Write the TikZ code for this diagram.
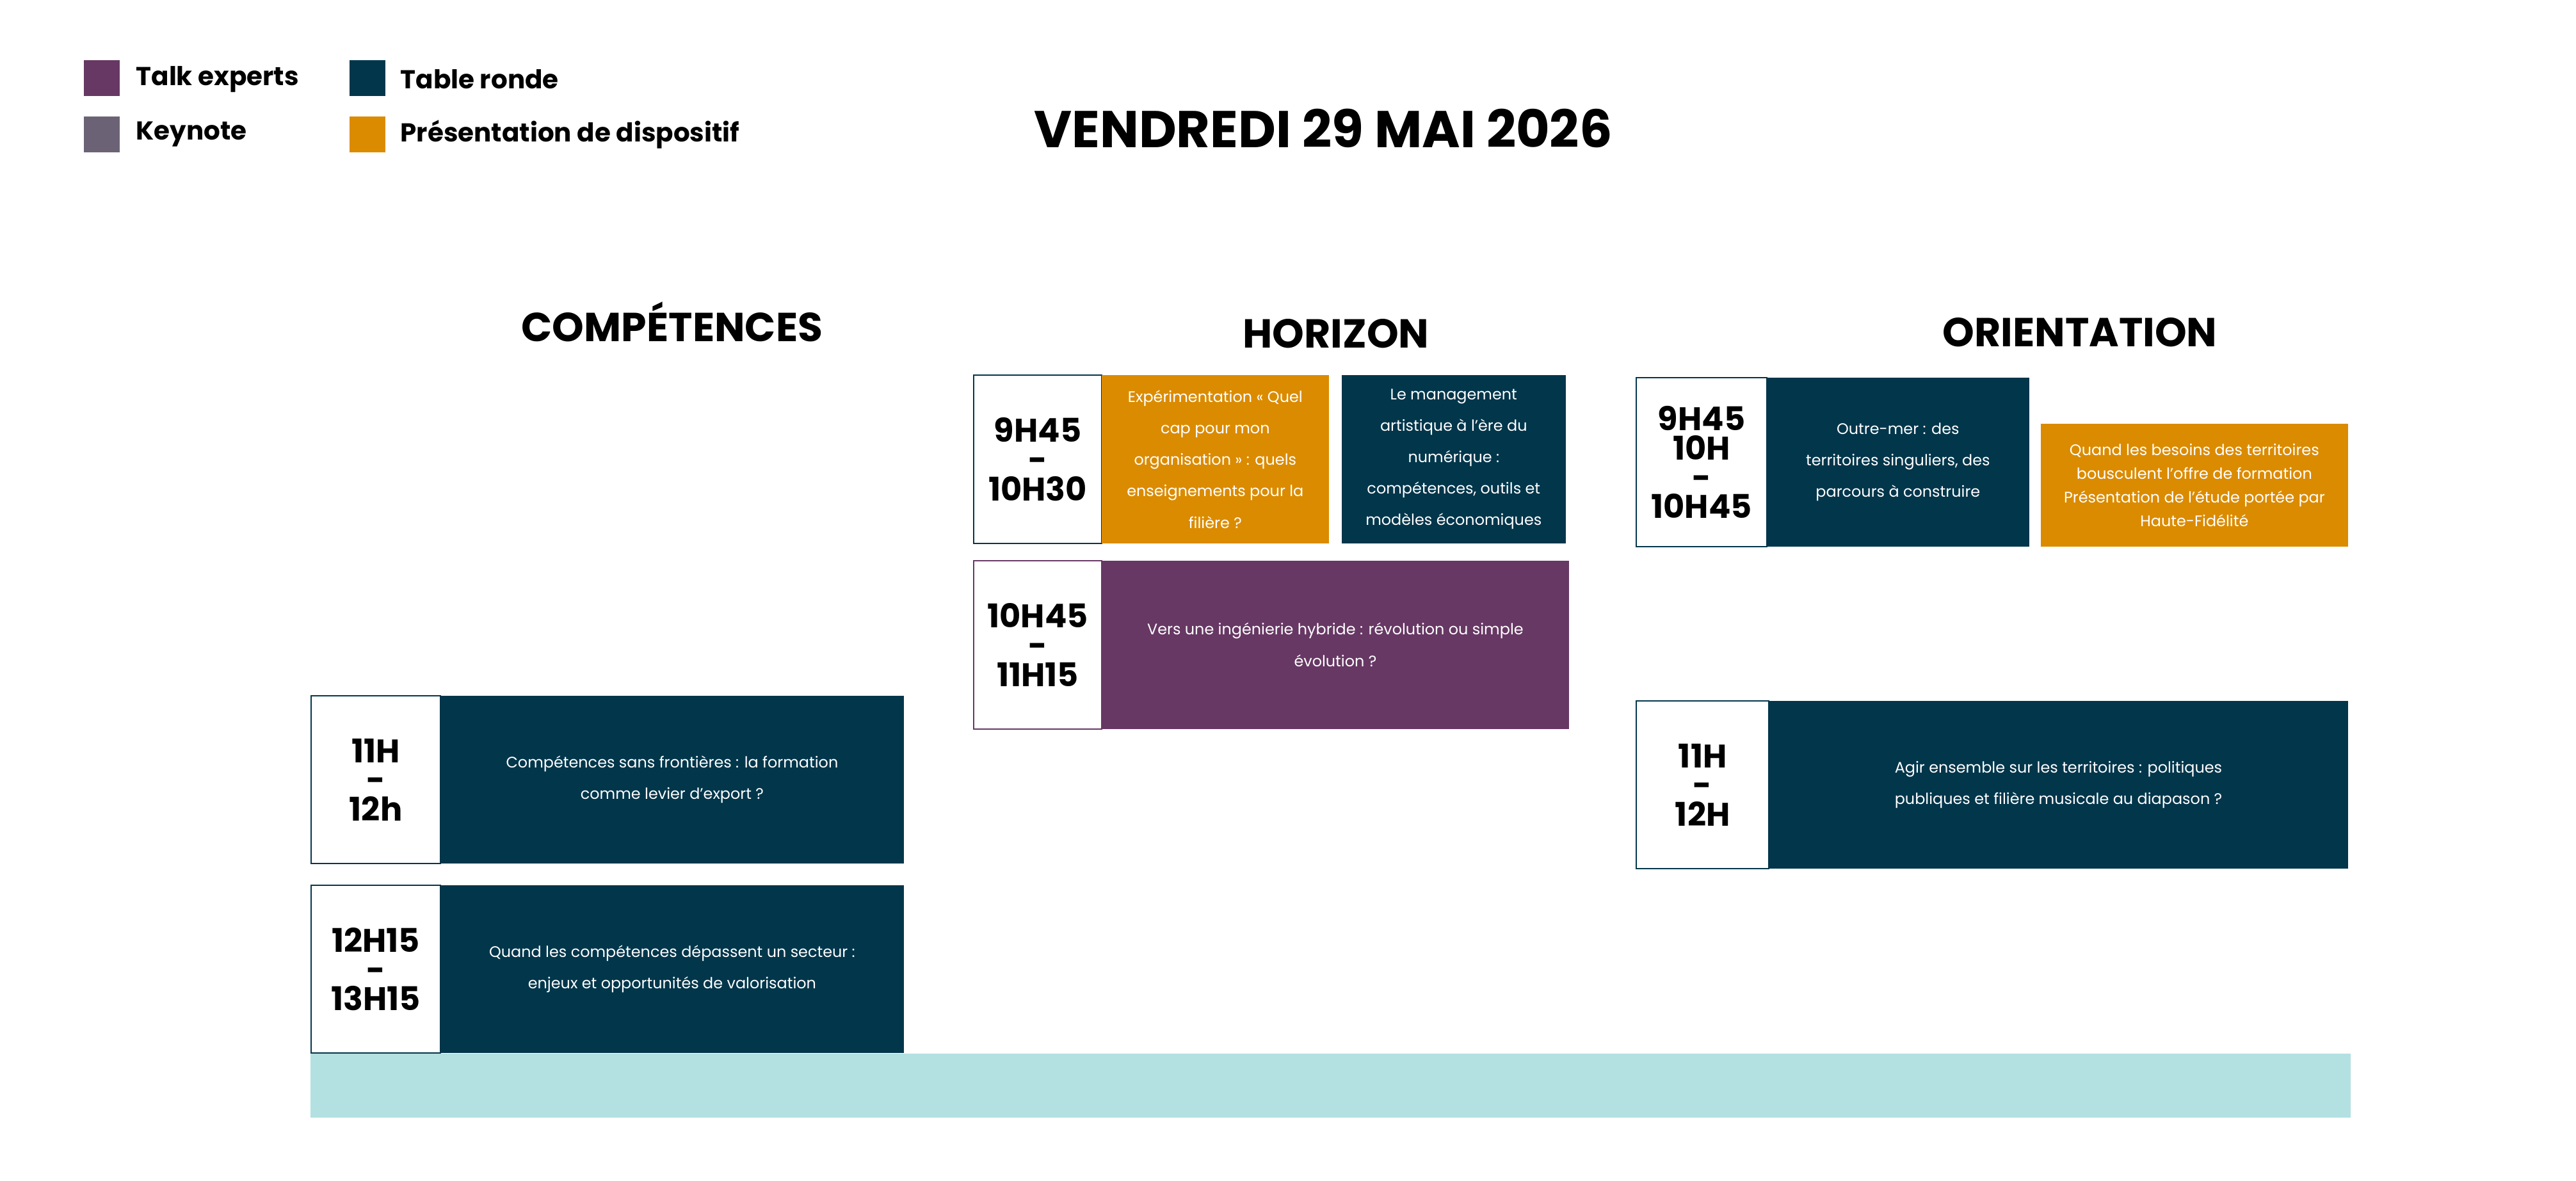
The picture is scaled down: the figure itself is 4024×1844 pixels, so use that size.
\documentclass[tikz,border=0pt]{standalone}
\usepackage{fontspec}
\setmainfont{Poppins}
\definecolor{talk}{HTML}{673864}
\definecolor{table}{HTML}{02364B}
\definecolor{keynote}{HTML}{6B6375}
\definecolor{dispo}{HTML}{DB8B00}
\definecolor{band}{HTML}{B3E0E0}
\begin{document}
\begin{tikzpicture}[x=0.01cm,y=-0.01cm,
  legend box/.style={minimum size=0.56cm,inner sep=0,anchor=north west},
  legend text/.style={anchor=west,font=\fontsize{11.5}{13}\selectfont\bfseries,inner sep=0},
  col title/.style={font=\fontsize{18}{20}\selectfont\bfseries},
  slot/.style={anchor=north west,inner sep=0,align=center,text=white,font=\fontsize{6.8}{14}\selectfont},
  time/.style={anchor=north west,inner sep=0,fill=white,draw=#1,line width=0.6pt,align=center,font=\fontsize{14.5}{13}\selectfont\bfseries}]

\useasboundingbox (0,0) rectangle (4024,1844);

% legend
\node[legend box,fill=talk] (lt) at (130,93) {};
\node[legend box,fill=keynote] (lk) at (130,181) {};
\node[legend box,fill=table] (lr) at (545,93) {};
\node[legend box,fill=dispo] (ld) at (545,181) {};
\node[legend text] at (212,124) {Talk experts};
\node[legend text] at (212,210) {Keynote};
\node[legend text] at (625,124) {Table ronde};
\node[legend text] at (625,210) {Présentation de dispositif};

\node[font=\fontsize{23}{25}\selectfont\bfseries] (title) at (2067,200) {VENDREDI 29 MAI 2026};

% columns
\node[col title] (comp) at (1050,503) {COMPÉTENCES};
\node[col title] (hori) at (2087,521) {HORIZON};
\node[col title] (orie) at (3249,519) {ORIENTATION};

% horizon
\node[time=table,minimum width=2cm,minimum height=2.63cm] (h1t) at (1520,585) {9H45\\-\\10H30};
\node[slot,fill=dispo,minimum width=3.55cm,minimum height=2.63cm] (h1a) at (1720,585) {Expérimentation « Quel\\cap pour mon\\organisation » : quels\\enseignements pour la\\filière ?};
\node[slot,fill=table,minimum width=3.5cm,minimum height=2.63cm] (h1b) at (2095,585) {Le management\\artistique à l’ère du\\numérique :\\compétences, outils et\\modèles économiques};
\node[time=talk,minimum width=2cm,minimum height=2.63cm] (h2t) at (1520,875) {10H45\\-\\11H15};
\node[slot,fill=talk,minimum width=7.3cm,minimum height=2.63cm] (h2a) at (1720,875) {Vers une ingénierie hybride : révolution ou simple\\évolution ?};

% orientation
\node[time=table,minimum width=2.04cm,minimum height=2.64cm] (o1t) at (2555,589) {9H45\\10H\\-\\10H45};
\node[slot,fill=table,minimum width=4.1cm,minimum height=2.64cm] (o1a) at (2759,589) {Outre-mer : des\\territoires singuliers, des\\parcours à construire};
\node[slot,fill=dispo,minimum width=4.8cm,minimum height=1.92cm,font=\fontsize{6.8}{10.5}\selectfont] (o1b) at (3187,661) {Quand les besoins des territoires\\bousculent l’offre de formation\\Présentation de l’étude portée par\\Haute-Fidélité};
\node[time=table,minimum width=2.07cm,minimum height=2.62cm] (o2t) at (2555,1094) {11H\\-\\12H};
\node[slot,fill=table,minimum width=9.05cm,minimum height=2.62cm] (o2a) at (2762,1094) {Agir ensemble sur les territoires : politiques\\publiques et filière musicale au diapason ?};

% compétences
\node[time=table,minimum width=2.02cm,minimum height=2.62cm] (c1t) at (485,1086) {11H\\-\\12h};
\node[slot,fill=table,minimum width=7.24cm,minimum height=2.62cm] (c1a) at (687,1086) {Compétences sans frontières : la formation\\comme levier d'export ?};
\node[time=table,minimum width=2.02cm,minimum height=2.62cm] (c2t) at (485,1382) {12H15\\-\\13H15};
\node[slot,fill=table,minimum width=7.24cm,minimum height=2.62cm] (c2a) at (687,1382) {Quand les compétences dépassent un secteur :\\enjeux et opportunités de valorisation};

\fill[band] (485,1646) rectangle (3672,1746);
\end{tikzpicture}
\end{document}
